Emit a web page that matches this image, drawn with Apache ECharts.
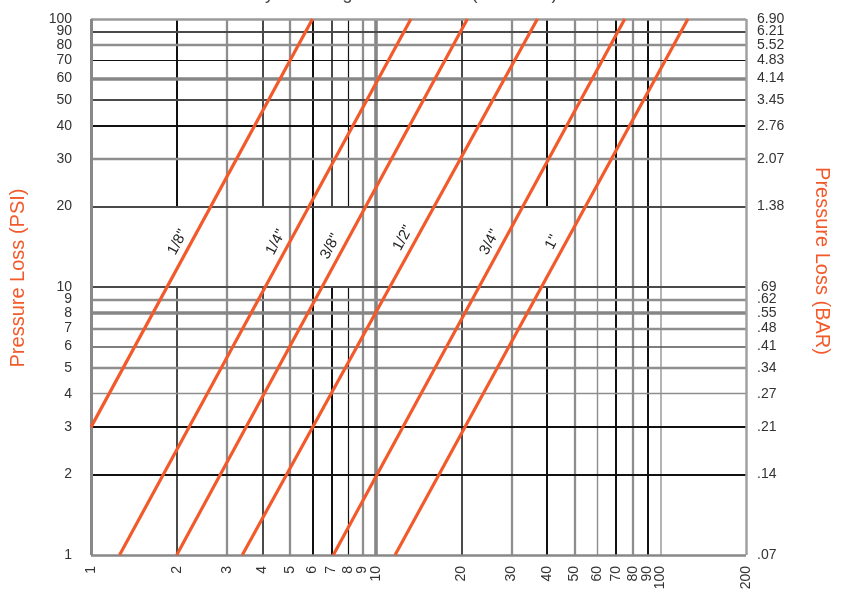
<!DOCTYPE html>
<html><head><meta charset="utf-8">
<script src="https://cdn.jsdelivr.net/npm/echarts@6/dist/echarts.min.js"></script>
<style>html,body{margin:0;padding:0;background:#fff}#c{width:841px;height:602px}</style>
</head><body><div id="c"></div>
<script>
// ---------- data ----------
const xTicks = [1,2,3,4,5,6,7,8,9,10,20,30,40,50,60,70,80,90,100,200];
const yTicks = [1,2,3,4,5,6,7,8,9,10,20,30,40,50,60,70,80,90,100];
const barLabels = ['.07','.14','.21','.27','.34','.41','.48','.55','.62','.69','1.38','2.07','2.76','3.45','4.14','4.83','5.52','6.21','6.90'];
const sizeNames = ['1/8"','1/4"','3/8"','1/2"','3/4"','1"'];
const lineFrom = [[1,3],[1.26,1],[2,1],[3.4,1],[7.1,1],[11.7,1]];
const lineTo   = [[6,100],[13.3,100],[21,100],[37,100],[75,100],[125,100]];
const labelAtPsi = [14, 14, 13.5, 14.5, 14, 14];
const xGridValues = [2,3,4,5,6,7,8,9,10,20,30,40,50,60,70,80,90,100];
const yGridValues = [2,3,4,5,6,7,8,9,10,20,30,40,50,60,70,80,90];
const xGridBroken = [2,4,7,8,40];   // vertical lines missing between 10 and 20 psi
const brokenSpan = [10,20];
const xRange = [1,200];
const yRange = [1,100];

// ---------- styles ----------
const ORANGE = '#f25a2b';
const FONT = 'Liberation Sans, Arial, sans-serif';
const S = {
  K2:{color:'#111',width:2}, K1:{color:'#111',width:1.2},
  D2:{color:'#4a4a4a',width:2}, D1:{color:'#555',width:1.5},
  G2:{color:'#8e8e8e',width:2.3}, G3:{color:'#868686',width:3.6},
  G1:{color:'#8e8e8e',width:1.4}, L2:{color:'#b4b4b4',width:2}
};
const xGridStyle = {2:['K2','D2'],3:'G2',4:['D2','D2'],5:'G2',6:'K2',7:['D2','K2'],8:['K1','K1'],9:'G2',10:'G3',
  20:'D2',30:'G2',40:['K2','K2'],50:'G2',60:'G1',70:'K2',80:'G2',90:'K2',100:'L2'};
const yGridStyle = {90:'D2',80:'G2',70:'K1',60:'G3',50:'D2',40:'K2',30:'G2',20:'D2',10:'D2',
  9:'G2',8:'G3',7:'G2',6:'D1',5:'G2',4:'G1',3:'K2',2:'K2'};
const borderStyle = {top:{color:'#9a9a9a',width:2.5}, bottom:{color:'#888',width:2.5},
  left:{color:'#888',width:3}, right:{color:'#a0a0a0',width:2.5}};

// ---------- build gridlines ----------
const seg = (x0,y0,x1,y1,st) => [{coord:[x0,y0], lineStyle:Object.assign({type:'solid'},st)},{coord:[x1,y1]}];
const gridLines = [];
xGridValues.forEach(v => {
  const st = xGridStyle[v];
  if (xGridBroken.includes(v)) {
    gridLines.push(seg(v,brokenSpan[1],v,yRange[1],S[st[0]]));
    gridLines.push(seg(v,yRange[0],v,brokenSpan[0],S[st[1]]));
  } else {
    gridLines.push(seg(v,yRange[0],v,yRange[1],S[st]));
  }
});
yGridValues.forEach(v => gridLines.push(seg(xRange[0],v,xRange[1],v,S[yGridStyle[v]])));
gridLines.push(seg(xRange[0],yRange[1],xRange[1],yRange[1],borderStyle.top));
gridLines.push(seg(xRange[0],yRange[0],xRange[1],yRange[0],borderStyle.bottom));
gridLines.push(seg(xRange[0],yRange[0],xRange[0],yRange[1],borderStyle.left));
gridLines.push(seg(xRange[1],yRange[0],xRange[1],yRange[1],borderStyle.right));

// ---------- series ----------
const L = Math.log10;
const series = [{
  type:'line', data:[[1,1]], symbol:'none', lineStyle:{width:0}, silent:true, clip:false, z:1,
  markLine:{silent:true, symbol:['none','none'], label:{show:false}, animation:false, data:gridLines}
}];
sizeNames.forEach((name,i) => {
  const [x0,y0] = lineFrom[i], [x1,y1] = lineTo[i];
  const t = (L(labelAtPsi[i]) - L(y0)) / (L(y1) - L(y0));
  const lx = Math.pow(10, L(x0) + t * (L(x1) - L(x0)));
  series.push({
    type:'line', name, data:[lineFrom[i], lineTo[i]], symbol:'none', z:5,
    lineStyle:{color:ORANGE, width:3.2, cap:'butt'},
    markPoint:{silent:true, animation:false, symbol:'circle', symbolSize:1, itemStyle:{color:'rgba(0,0,0,0)'},
      data:[{coord:[lx, labelAtPsi[i]], label:{show:true, formatter:name, position:'inside', offset:[0,-12],
        rotate:62, color:'#222', fontSize:15, fontFamily:FONT}}]}
  });
});

// the tick labels are packed tightly, so alternate ticks are drawn by two twin axes per side
const yTicksA = yTicks.filter((_, i) => i % 2 === 0);
const yTicksB = yTicks.filter((_, i) => i % 2 === 1);
const axisFont = {fontSize:14, color:'#333', fontFamily:FONT, hideOverlap:false};
const EPS = 1.000001;
const psiFmt = v => String(Math.round(v));
const barFmt = v => barLabels[yTicks.indexOf(Math.round(v))];
const yBase = (pos, ticks, fmt, margin) => ({
  type:'log', logBase:10, min:yRange[0], max:yRange[1]*EPS, position:pos,
  axisLine:{show:false}, axisTick:{show:false}, splitLine:{show:false},
  axisLabel:Object.assign({customValues:ticks, margin, formatter:fmt, showMinLabel:true, showMaxLabel:true}, axisFont)
});
const yLeft = Object.assign(yBase('left', yTicksA, psiFmt, 19), {
  name:'Pressure Loss (PSI)', nameLocation:'middle', nameRotate:90, nameGap:63,
  nameTextStyle:{fontSize:20, color:ORANGE, fontFamily:FONT, padding:[0,0,0,18]}});
const yRight = Object.assign(yBase('right', yTicksA, barFmt, 11), {
  name:'Pressure Loss (BAR)', nameLocation:'middle', nameRotate:-90, nameGap:66,
  nameTextStyle:{fontSize:20, color:ORANGE, fontFamily:FONT, padding:[0,52,0,0]}});
const yLeftB = yBase('left', yTicksB, psiFmt, 19);
const yRightB = yBase('right', yTicksB, barFmt, 11);

const option = {
  animation:false,
  title:{text:'Velocity in Tubing vs. Flow Rate (GAL/MIN)', left:212, top:-15, padding:0,
    textStyle:{fontSize:18, fontWeight:'normal', color:'#444', fontFamily:FONT}},
  grid:{left:91, right:95, top:19, bottom:47},
  xAxis:{type:'log', logBase:10, min:xRange[0], max:xRange[1]*EPS,
    axisLine:{show:false}, axisTick:{show:false}, splitLine:{show:false},
    axisLabel:Object.assign({customValues:xTicks, rotate:90, margin:11, formatter:psiFmt},axisFont)},
  yAxis:[yLeft, yRight, yLeftB, yRightB],
  series
};
const chart = echarts.init(document.getElementById('c'), null, {renderer:'canvas'});
chart.setOption(option);
</script></body></html>
